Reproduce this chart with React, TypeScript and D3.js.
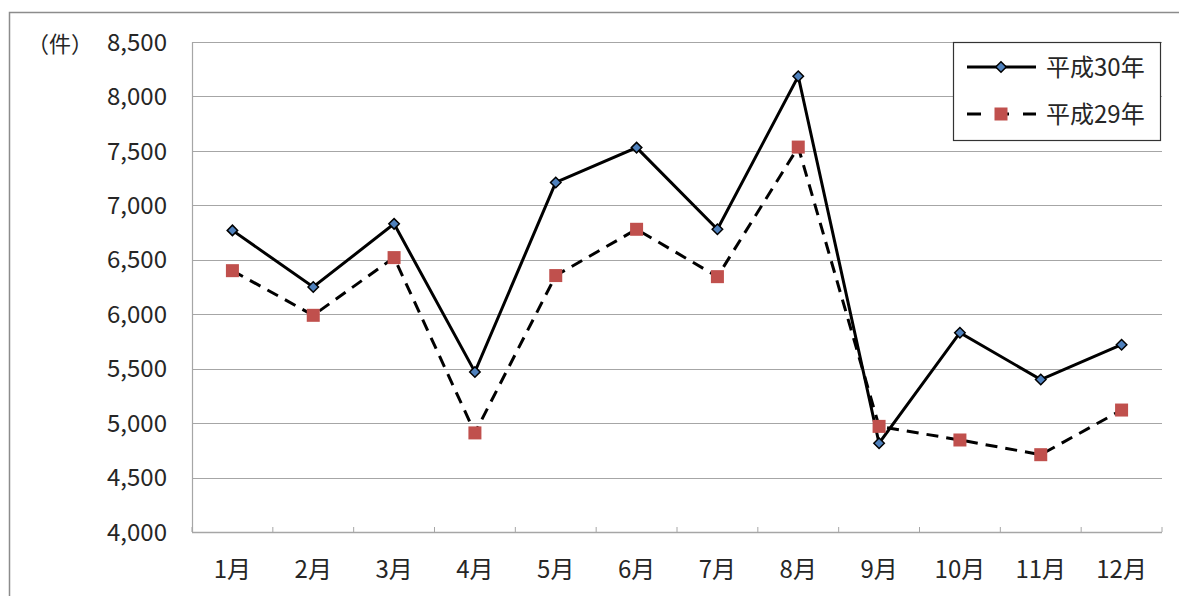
import { useEffect, useRef } from "react";
import * as d3 from "d3";

const months = ["1月", "2月", "3月", "4月", "5月", "6月", "7月", "8月", "9月", "10月", "11月", "12月"];
const h30 = [6770, 6250, 6830, 5470, 7210, 7530, 6780, 8185, 4815, 5830, 5400, 5720];
const h29 = [6400, 5990, 6520, 4910, 6355, 6780, 6345, 7535, 4970, 4845, 4710, 5120];
const yTicks = [4000, 4500, 5000, 5500, 6000, 6500, 7000, 7500, 8000, 8500];
const seriesNames = ["平成30年", "平成29年"];

const FONT = "'Noto Sans CJK JP', 'Noto Sans', sans-serif";
const TEXT = "#262626";

export default function App() {
  const ref = useRef<SVGSVGElement | null>(null);

  useEffect(() => {
    if (!ref.current) return;
    const svg = d3.select(ref.current);
    svg.selectAll("*").remove();

    const width = 1179;
    const height = 596;
    const plot = { left: 192, right: 1162, top: 42, bottom: 532 };

    // outer chart border
    svg.append("rect")
      .attr("x", 9.5).attr("y", 12.5)
      .attr("width", width + 10).attr("height", height + 10)
      .attr("fill", "#fff")
      .attr("stroke", "#8c8c8c")
      .attr("stroke-width", 1.5);

    const x = d3.scaleBand<string>()
      .domain(months)
      .range([plot.left, plot.right]);

    const y = d3.scaleLinear()
      .domain([4000, 8500])
      .range([plot.bottom, plot.top]);

    // gridlines
    svg.append("g")
      .selectAll("line")
      .data(yTicks.slice(1))
      .enter()
      .append("line")
      .attr("x1", plot.left).attr("x2", plot.right)
      .attr("y1", d => Math.round(y(d)) + 0.5)
      .attr("y2", d => Math.round(y(d)) + 0.5)
      .attr("stroke", "#a6a6a6")
      .attr("stroke-width", 1.2);

    // y axis line
    svg.append("line")
      .attr("x1", plot.left + 0.5).attr("x2", plot.left + 0.5)
      .attr("y1", plot.top).attr("y2", plot.bottom)
      .attr("stroke", "#a6a6a6").attr("stroke-width", 1.2);

    // x axis line + ticks at category boundaries
    svg.append("line")
      .attr("x1", plot.left).attr("x2", plot.right)
      .attr("y1", plot.bottom + 0.5).attr("y2", plot.bottom + 0.5)
      .attr("stroke", "#a6a6a6").attr("stroke-width", 1.5);

    const bounds = months.map(m => x(m) || 0).concat([plot.right]);
    svg.append("g")
      .selectAll("line")
      .data(bounds)
      .enter()
      .append("line")
      .attr("x1", d => d).attr("x2", d => d)
      .attr("y1", plot.bottom - 5).attr("y2", plot.bottom)
      .attr("stroke", "#a6a6a6").attr("stroke-width", 1);

    // y tick labels
    svg.append("g")
      .selectAll("text")
      .data(yTicks)
      .enter()
      .append("text")
      .attr("x", 167)
      .attr("y", d => y(d))
      .attr("dy", "0.36em")
      .attr("text-anchor", "end")
      .attr("fill", TEXT)
      .style("font-family", FONT)
      .style("font-size", "24px")
      .text(d => d3.format(",")(d));

    svg.append("text")
      .attr("x", 60).attr("y", plot.top + 2)
      .attr("dy", "0.36em")
      .attr("text-anchor", "middle")
      .attr("fill", TEXT)
      .style("font-family", FONT)
      .style("font-size", "22px")
      .text("（件）");

    // x labels
    svg.append("g")
      .selectAll("text")
      .data(months)
      .enter()
      .append("text")
      .attr("x", d => (x(d) || 0) + x.bandwidth() / 2)
      .attr("y", 569)
      .attr("dy", "0.36em")
      .attr("text-anchor", "middle")
      .attr("fill", TEXT)
      .style("font-family", FONT)
      .style("font-size", "24px")
      .text(d => d);

    const cx = (i: number) => (x(months[i]) || 0) + x.bandwidth() / 2;
    const line = d3.line<number>()
      .x((_, i) => cx(i))
      .y(d => y(d));

    // 平成29年 dashed
    svg.append("path")
      .datum(h29)
      .attr("d", line)
      .attr("fill", "none")
      .attr("stroke", "#000")
      .attr("stroke-width", 3)
      .attr("stroke-dasharray", "12,8");

    // 平成30年 solid
    svg.append("path")
      .datum(h30)
      .attr("d", line)
      .attr("fill", "none")
      .attr("stroke", "#000")
      .attr("stroke-width", 3);

    const sq = 13;
    svg.append("g")
      .selectAll("rect")
      .data(h29)
      .enter()
      .append("rect")
      .attr("x", (_, i) => cx(i) - sq / 2)
      .attr("y", d => y(d) - sq / 2)
      .attr("width", sq).attr("height", sq)
      .attr("fill", "#c0504d");

    const diamond = d3.symbol().type(d3.symbolDiamond2).size(70);
    svg.append("g")
      .selectAll("path")
      .data(h30)
      .enter()
      .append("path")
      .attr("d", diamond)
      .attr("transform", (d, i) => `translate(${cx(i)},${y(d)})`)
      .attr("fill", "#4f81bd")
      .attr("stroke", "#000")
      .attr("stroke-width", 1.5);

    // legend
    const lg = svg.append("g");
    lg.append("rect")
      .attr("x", 953.5).attr("y", 42.5)
      .attr("width", 207).attr("height", 98)
      .attr("fill", "#fff")
      .attr("stroke", "#333")
      .attr("stroke-width", 1.2);

    const rows = [67, 114];
    rows.forEach((ry, k) => {
      lg.append("line")
        .attr("x1", 967).attr("x2", 1036)
        .attr("y1", ry).attr("y2", ry)
        .attr("stroke", "#000")
        .attr("stroke-width", 3)
        .attr("stroke-dasharray", k === 1 ? "14,14" : null);
      if (k === 0) {
        lg.append("path")
          .attr("d", diamond)
          .attr("transform", `translate(1001,${ry})`)
          .attr("fill", "#4f81bd")
          .attr("stroke", "#000")
          .attr("stroke-width", 1.5);
      } else {
        lg.append("rect")
          .attr("x", 1001 - sq / 2).attr("y", ry - sq / 2)
          .attr("width", sq).attr("height", sq)
          .attr("fill", "#c0504d");
      }
      lg.append("text")
        .attr("x", 1046).attr("y", ry)
        .attr("dy", "0.36em")
        .attr("fill", TEXT)
        .style("font-family", FONT)
        .style("font-size", "24px")
        .text(seriesNames[k]);
    });
  }, []);

  return (
    <div style={{ position: "absolute", left: 0, top: 0, width: 1179, height: 596, overflow: "hidden" }}>
      <svg ref={ref} width={1179} height={596} style={{ display: "block" }} />
    </div>
  );
}
